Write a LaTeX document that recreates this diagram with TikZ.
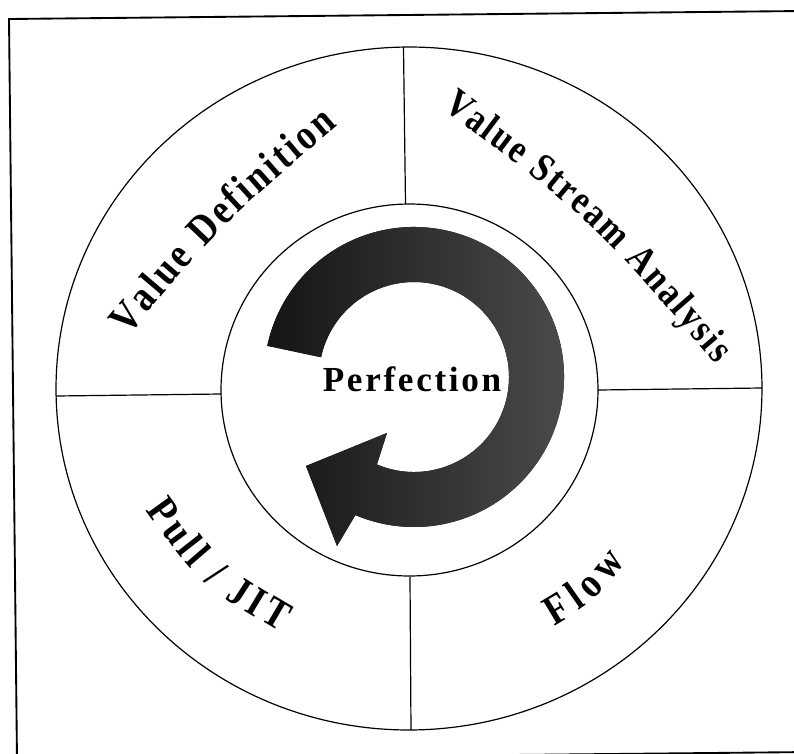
\documentclass[tikz,border=0pt]{standalone}
\usepackage{fontspec}
\setmainfont{Liberation Serif}
\usetikzlibrary{decorations.text,shapes.geometric}
\tikzset{
  ring/.style={draw=black, line width=0.9pt},
  divider/.style={draw=black, line width=0.9pt},
  framebox/.style={draw=black, line width=1.4pt},
  arrowfill/.style={left color=black!92, right color=black!70},
  arclabel/.style={decorate, decoration={text along path, text align={fit to path}, text={#1}}}
}
\newcommand{\lblfont}{\fontsize{32}{34}\selectfont\bfseries\addfontfeature{FakeStretch=0.85}}
\newcommand{\lblfontsm}{\fontsize{30}{32}\selectfont\bfseries\addfontfeature{FakeStretch=0.85}}
\begin{document}
\begin{tikzpicture}[x=0.75pt,y=-0.75pt]
\useasboundingbox (0,0) rectangle (794,754);
% frame
\coordinate (fTL) at (9,19);
\coordinate (fTR) at (802,11);
\coordinate (fBR) at (810,752);
\coordinate (fBL) at (17,760);
\draw[framebox] (fTL) -- (fTR) -- (fBR) -- (fBL) -- cycle;
% rings
\node[ring, ellipse, minimum width=706*0.75pt, minimum height=683*0.75pt, inner sep=0pt, rotate=0.6] (outer) at (409,388.5) {};
\node[ring, ellipse, minimum width=377*0.75pt, minimum height=372*0.75pt, inner sep=0pt, rotate=0.6] (inner) at (409.5,390) {};
% dividers
\draw[divider] (403.5,47) -- (405.5,204);
\draw[divider] (410,577) -- (411,730);
\draw[divider] (56,396) -- (221,394);
\draw[divider] (598,390) -- (762,388);
% circular arrow
\begin{scope}[shift={(414,377)}, y=0.75pt]
\fill[arrowfill] (168:150) arc[start angle=168, end angle=-113, radius=150]
  -- (-77,-169) -- (-108,-89) -- (-27,-56)
  -- (-113:95) arc[start angle=-113, end angle=168, radius=95] -- cycle;
\end{scope}
\node[font=\fontsize{26.4}{28}\selectfont\bfseries\addfontfeature{LetterSpace=7.6}] (perf) at (412,379) {Perfection};
% labels
\path[arclabel={|\lblfont|Value Definition}] (128,336) .. controls (222,224) .. (338,126);
\path[arclabel={|\lblfontsm|Value Stream Analysis}] (442,108) .. controls (592,220) .. (716,364);
\path[arclabel={|\lblfont|Pull / JIT}] (146,510) .. controls (200,585) .. (280,632);
\path[arclabel={|\lblfont|Flow}] (554,626) .. controls (594,602) .. (626,562);
\end{tikzpicture}
\end{document}
